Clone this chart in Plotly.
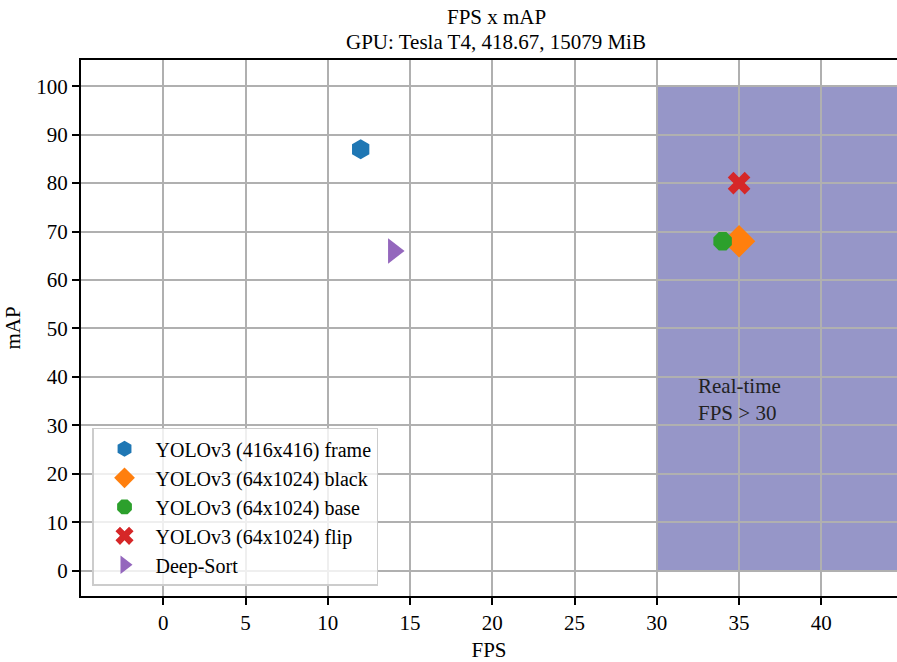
import plotly.graph_objects as go

names = ["YOLOv3 (416x416) frame", "YOLOv3 (64x1024) black", "YOLOv3 (64x1024) base",
         "YOLOv3 (64x1024) flip", "Deep-Sort"]
fps = [12, 35, 34, 35, 14]
map_vals = [87, 68, 68, 80, 66]
symbols = ["hexagon", "diamond", "octagon", "x", "triangle-right"]
colors = ["#1f77b4", "#ff7f0e", "#2ca02c", "#d62728", "#9467bd"]
sizes = [20, 25, 20, 20, 22]

x_ticks = [0, 5, 10, 15, 20, 25, 30, 35, 40]
y_ticks = [0, 10, 20, 30, 40, 50, 60, 70, 80, 90, 100]

realtime_x0 = 30
realtime_y = [0, 100]

FONT = "Liberation Serif"
FS = 21

fig = go.Figure()
for n, x, y, s, c, sz in zip(names, fps, map_vals, symbols, colors, sizes):
    fig.add_trace(go.Scatter(x=[x], y=[y], mode="markers", name=n,
                             marker=dict(symbol=s, color=c, size=sz, line=dict(width=0))))

fig.add_shape(type="rect", xref="x", yref="y", x0=realtime_x0, x1=60,
              y0=realtime_y[0], y1=realtime_y[1], fillcolor="rgb(150,150,200)",
              line=dict(width=0), layer="below")

fig.add_annotation(x=32.4, y=35.3, xref="x", yref="y", text="Real-time<br>FPS > 30",
                   showarrow=False, xanchor="left", yanchor="middle", align="left",
                   font=dict(family=FONT, size=FS, color="#222"))

# two-line title
fig.add_annotation(x=0.5086, y=1.080, xref="paper", yref="paper", text="FPS x mAP",
                   showarrow=False, xanchor="center", yanchor="middle",
                   font=dict(family=FONT, size=FS, color="black"))
fig.add_annotation(x=0.5086, y=1.0336, xref="paper", yref="paper",
                   text="GPU: Tesla T4, 418.67, 15079 MiB",
                   showarrow=False, xanchor="center", yanchor="middle",
                   font=dict(family=FONT, size=FS, color="black"))

axis_common = dict(showgrid=True, gridcolor="#b0b0b0", gridwidth=1.5, zeroline=False,
                   showline=True, linecolor="black", linewidth=2, mirror=True,
                   ticks="outside", ticklen=7, tickwidth=2, tickcolor="black",
                   automargin=False,
                   tickfont=dict(family=FONT, size=FS, color="black"))

fig.update_xaxes(range=[-5, 44.6], tickvals=x_ticks,
                 title=dict(text="FPS", font=dict(family=FONT, size=FS, color="black"), standoff=10),
                 **axis_common)
fig.update_yaxes(range=[-5.2, 105.4], tickvals=y_ticks,
                 title=dict(text="mAP", font=dict(family=FONT, size=FS, color="black"), standoff=10),
                 **axis_common)

fig.update_layout(
    width=897, height=662,
    margin=dict(l=81, r=0, t=60, b=66, autoexpand=False),
    paper_bgcolor="white", plot_bgcolor="white",
    font=dict(family=FONT, size=FS, color="black"),
    legend=dict(x=0.0135, y=0.019, xanchor="left", yanchor="bottom",
                bgcolor="rgba(255,255,255,0.8)", bordercolor="#cccccc", borderwidth=1.5,
                font=dict(family=FONT, size=20, color="black"), itemwidth=52),
    showlegend=True,
)

fig.write_html("out.html", config={"displayModeBar": False},
               post_script="document.body.style.margin='0';document.body.style.overflow='hidden';")
